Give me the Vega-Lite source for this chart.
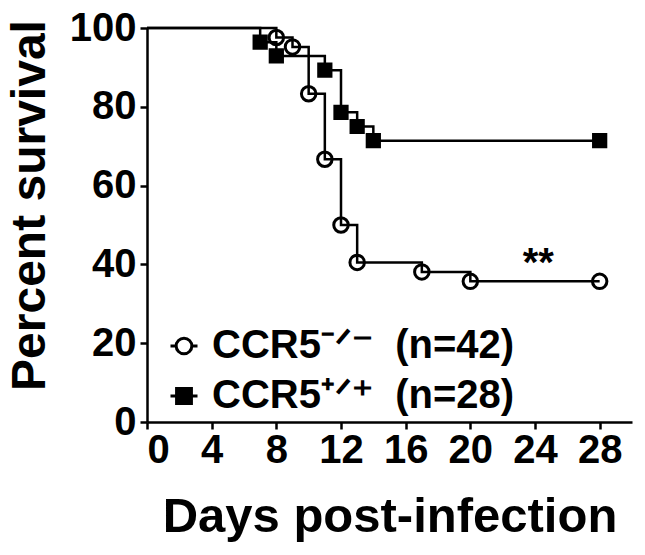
{
  "$schema": "https://vega.github.io/schema/vega-lite/v6.json",
  "width": 485,
  "height": 394,
  "autosize": {"type": "none"},
  "padding": {"left": 147, "top": 28, "right": 13, "bottom": 133},
  "background": "white",
  "config": {
    "view": {"stroke": null},
    "font": "Liberation Sans",
    "axis": {
      "domainColor": "black", "domainWidth": 2.5, "tickColor": "black", "tickWidth": 2.5,
      "labelFont": "Liberation Sans", "labelFontWeight": "bold", "labelFontSize": 40, "labelColor": "black",
      "titleFont": "Liberation Sans", "titleFontWeight": "bold", "titleFontSize": 48, "titleColor": "black",
      "grid": false
    }
  },
  "datasets": {
    "km": [
      {"group": "CCR5-/-", "day": 0, "survival": 100},
      {"group": "CCR5-/-", "day": 8, "survival": 97.6},
      {"group": "CCR5-/-", "day": 9, "survival": 95.2},
      {"group": "CCR5-/-", "day": 10, "survival": 83.3},
      {"group": "CCR5-/-", "day": 11, "survival": 66.7},
      {"group": "CCR5-/-", "day": 12, "survival": 50.0},
      {"group": "CCR5-/-", "day": 13, "survival": 40.5},
      {"group": "CCR5-/-", "day": 17, "survival": 38.1},
      {"group": "CCR5-/-", "day": 20, "survival": 35.7},
      {"group": "CCR5-/-", "day": 28, "survival": 35.7},
      {"group": "CCR5+/+", "day": 0, "survival": 100},
      {"group": "CCR5+/+", "day": 7, "survival": 96.4},
      {"group": "CCR5+/+", "day": 8, "survival": 92.9},
      {"group": "CCR5+/+", "day": 11, "survival": 89.3},
      {"group": "CCR5+/+", "day": 12, "survival": 78.6},
      {"group": "CCR5+/+", "day": 13, "survival": 75.0},
      {"group": "CCR5+/+", "day": 14, "survival": 71.4},
      {"group": "CCR5+/+", "day": 28, "survival": 71.4}
    ],
    "groups": [
      {"group": "CCR5-/-", "n": 42},
      {"group": "CCR5+/+", "n": 28}
    ]
  },
  "layer": [
    {
      "data": {"name": "km"},
      "transform": [{"filter": "datum.day > 0"}],
      "mark": {"type": "point", "filled": true, "stroke": "black", "strokeWidth": 3, "opacity": 1},
      "encoding": {
        "x": {"field": "day", "type": "quantitative", "scale": {"domain": [0, 30], "nice": false},
          "axis": {"values": [0, 4, 8, 12, 16, 20, 24, 28], "tickSize": 7, "labelPadding": 1,
            "title": "Days post-infection", "titleY": 109, "titleBaseline": "alphabetic", "titleFontSize": 49}},
        "y": {"field": "survival", "type": "quantitative", "scale": {"domain": [0, 100], "nice": false},
          "axis": {"values": [0, 20, 40, 60, 80, 100], "tickSize": 7, "labelPadding": 4,
            "title": "Percent survival", "titleX": -103, "titleY": 177, "titleAngle": -90,
            "titleBaseline": "alphabetic", "titleAlign": "center"}},
        "shape": {"field": "group", "type": "nominal", "scale": {"domain": ["CCR5-/-", "CCR5+/+"], "range": ["circle", "square"]}, "legend": null},
        "fill": {"field": "group", "type": "nominal", "scale": {"domain": ["CCR5-/-", "CCR5+/+"], "range": ["white", "black"]}, "legend": null},
        "size": {"field": "group", "type": "nominal", "scale": {"domain": ["CCR5-/-", "CCR5+/+"], "range": [210, 150]}, "legend": null}
      }
    },
    {
      "data": {"name": "km"},
      "mark": {"type": "line", "interpolate": "step-after", "color": "black", "strokeWidth": 2.5},
      "encoding": {
        "x": {"field": "day", "type": "quantitative"},
        "y": {"field": "survival", "type": "quantitative"},
        "detail": {"field": "group", "type": "nominal"}
      }
    },
    {
      "data": {"name": "km"},
      "mark": {"type": "text", "text": "**", "fontSize": 40, "fontWeight": "bold", "font": "Liberation Sans", "baseline": "alphabetic", "align": "center", "color": "black"},
      "encoding": {
        "x": {"datum": 24.2},
        "y": {"datum": 37}
      },
      "transform": [{"filter": "datum.day == 28 && datum.group == 'CCR5-/-'"}]
    },
    {
      "data": {"name": "groups"},
      "mark": {"type": "point", "filled": true, "stroke": "black", "strokeWidth": 3, "opacity": 0},
      "encoding": {
        "x": {"datum": 28},
        "y": {"datum": 50},
        "shape": {"field": "group", "type": "nominal",
          "scale": {"domain": ["CCR5-/-", "CCR5+/+"],
            "range": ["M-1,0L-0.58,0M0.58,0L1,0M0.58,0A0.58,0.58,0,1,1,-0.58,0A0.58,0.58,0,1,1,0.58,0Z",
                      "M-1,0L-0.55,0M0.55,0L1,0M-0.55,-0.55L0.55,-0.55L0.55,0.55L-0.55,0.55Z"]},
          "legend": {
            "orient": "none", "legendX": 17, "legendY": 298, "title": null, "padding": 0,
            "symbolSize": 729, "symbolStrokeWidth": 3, "symbolStrokeColor": "black", "symbolOpacity": 1,
            "labelFont": "Liberation Sans", "labelFontSize": 40, "labelFontWeight": "bold", "labelColor": "black",
            "labelOffset": 8, "rowPadding": 10, "labelLimit": 0,
            "labelExpr": "datum.label == 'CCR5-/-' ? 'CCR5⁻ᐟ⁻\u00a0 (n=42)' : 'CCR5⁺ᐟ⁺\u00a0 (n=28)'",
            "encode": {"symbols": {"update": {"stroke": {"value": "black"}, "strokeWidth": {"value": 3}, "opacity": {"value": 1}, "strokeOpacity": {"value": 1}}}}
          }},
        "fill": {"field": "group", "type": "nominal",
          "scale": {"domain": ["CCR5-/-", "CCR5+/+"], "range": ["white", "black"]},
          "legend": {
            "orient": "none", "legendX": 17, "legendY": 298, "title": null, "padding": 0,
            "symbolSize": 729, "symbolStrokeWidth": 3, "symbolStrokeColor": "black", "symbolOpacity": 1,
            "labelFont": "Liberation Sans", "labelFontSize": 40, "labelFontWeight": "bold", "labelColor": "black",
            "labelOffset": 8, "rowPadding": 10, "labelLimit": 0,
            "labelExpr": "datum.label == 'CCR5-/-' ? 'CCR5⁻ᐟ⁻\u00a0 (n=42)' : 'CCR5⁺ᐟ⁺\u00a0 (n=28)'",
            "encode": {"symbols": {"update": {"stroke": {"value": "black"}, "strokeWidth": {"value": 3}, "opacity": {"value": 1}, "strokeOpacity": {"value": 1}}}}
          }}
      }
    }
  ],
  "resolve": {"scale": {"shape": "independent", "fill": "independent"}, "legend": {"shape": "independent", "fill": "independent"}}
}
